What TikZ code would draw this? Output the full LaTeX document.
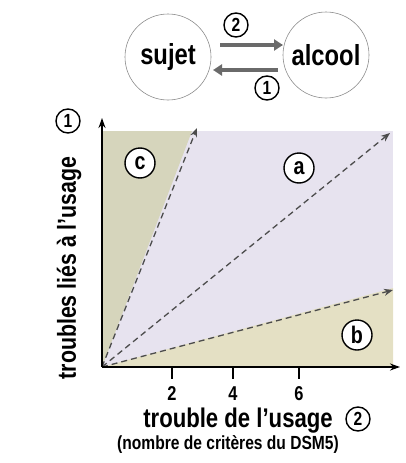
\documentclass[tikz,border=0pt]{standalone}
\usepackage{fontspec}
\setmainfont[FakeStretch=0.82]{Liberation Sans}
\usetikzlibrary{arrows.meta}
\definecolor{olivez}{HTML}{D6D5BC}
\definecolor{olivey}{HTML}{E4E0C4}
\definecolor{lavz}{HTML}{E7E3EF}
\definecolor{arrgray}{HTML}{6A6A6A}
\tikzset{
  bigcirc/.style={circle, draw=black!45, line width=0.6pt, minimum size=86pt, inner sep=0pt, font=\fontsize{29}{29}\selectfont\bfseries},
  numcirc/.style={circle, draw, line width=1.4pt, minimum size=24pt, inner sep=0pt, font=\fontsize{19}{19}\selectfont\bfseries},
  letcirc/.style={circle, draw, fill=white, line width=1.4pt, minimum size=30pt, inner sep=0pt, font=\fontsize{24}{24}\selectfont\bfseries},
  fatarrow/.style={draw=arrgray, line width=4pt, -{Triangle[length=9pt,width=11pt]}},
  ray/.style={draw=black!70, line width=1.3pt, dash pattern=on 6pt off 4pt, -{Stealth[length=9pt,width=7pt]}},
  axis/.style={draw=black, line width=1.8pt, -{Stealth[length=10pt,width=7pt]}},
  tick/.style={draw=black, line width=1.6pt},
  lbl/.style={font=\fontsize{26}{26}\selectfont\bfseries, inner sep=0pt},
  numlbl/.style={font=\fontsize{20}{20}\selectfont\bfseries, inner sep=0pt},
  smalllbl/.style={font=\fontsize{19}{19}\selectfont\bfseries, inner sep=0pt}
}
\begin{document}
\begin{tikzpicture}[x=1pt,y=-1pt]
\useasboundingbox (0,0) rectangle (405,463);
% top
\node[bigcirc] (sujet) at (168,57) {sujet};
\node[bigcirc] (alcool) at (326,55) {alcool};
\coordinate (a1s) at (220,45);
\coordinate (a1e) at (283,45);
\coordinate (a2s) at (278,70);
\coordinate (a2e) at (213,70);
\draw[fatarrow] (a1s) -- (a1e);
\draw[fatarrow] (a2s) -- (a2e);
\node[numcirc] (n2top) at (236,25) {2};
\node[numcirc] (n1top) at (267,88) {1};
% plot regions
\coordinate (O) at (102,367);
\coordinate (Pc) at (197,128);
\coordinate (Pa) at (390,133);
\coordinate (Pb) at (393,290);
\fill[lavz] (102,131) rectangle (393,367);
\fill[olivez] (O) -- (102,131) -- (192,131) -- cycle;
\fill[olivey] (O) -- (393,288) -- (393,367) -- cycle;
\draw[ray] (O) -- (Pc);
\draw[ray] (O) -- (Pa);
\draw[ray] (O) -- (Pb);
% axes
\coordinate (Ytop) at (102,118);
\coordinate (Xend) at (400,367);
\draw[axis] (O) -- (Ytop);
\draw[axis] (O) -- (Xend);
\coordinate (t2) at (172,367);
\coordinate (t4) at (233,367);
\coordinate (t6) at (299,367);
\draw[tick] (t2) -- ++(0,12);
\draw[tick] (t4) -- ++(0,12);
\draw[tick] (t6) -- ++(0,12);
\node[numlbl] (l2) at (172,394) {2};
\node[numlbl] (l4) at (233,394) {4};
\node[numlbl] (l6) at (299,394) {6};
\node[letcirc] (c) at (140,163) {c};
\node[letcirc] (a) at (299,168) {a};
\node[letcirc] (b) at (357,335) {b};
% labels
\node[lbl, rotate=90] (ylab) at (69,268) {troubles liés à l’usage};
\node[numcirc] (n1y) at (68,121) {1};
\node[lbl, font=\fontsize{27}{27}\selectfont\bfseries] (xlab) at (238,421) {trouble de l’usage};
\node[numcirc] (n2x) at (358,419) {2};
\node[smalllbl] (xsub) at (228,444) {(nombre de critères du DSM5)};
\end{tikzpicture}
\end{document}
